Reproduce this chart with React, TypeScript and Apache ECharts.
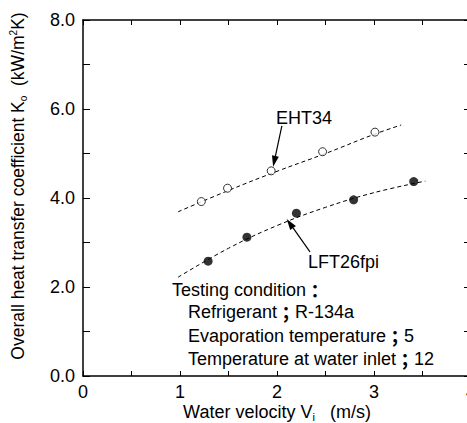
import React, { useEffect, useRef } from 'react';
import * as echarts from 'echarts';

// Measured points (x: water velocity m/s, y: Ko kW/m2K)
const eht34X = [1.22, 1.49, 1.94, 2.47, 3.01];
const eht34Y = [3.92, 4.22, 4.61, 5.04, 5.48];
const lft26X = [1.29, 1.69, 2.2, 2.79, 3.41];
const lft26Y = [2.58, 3.12, 3.66, 3.96, 4.37];

// Dashed fitted curves
const ehtFitX = [0.98, 1.5, 2.0, 2.5, 3.0, 3.28];
const ehtFitY = [3.69, 4.17, 4.6, 5.0, 5.43, 5.64];
const lftFitX = [0.98, 1.5, 2.0, 2.5, 3.0, 3.53];
const lftFitY = [2.22, 2.87, 3.38, 3.79, 4.12, 4.38];

const conditionTitle = 'Testing condition';
const conditionKeys = ['Refrigerant', 'Evaporation temperature', 'Temperature at water inlet'];
const conditionValues = ['R-134a', '5', '12'];

const FONT = '"Liberation Sans", Arial, "Noto Sans CJK JP", sans-serif';
const CJK = '"Noto Sans CJK JP", sans-serif';
const FS = 18;

function zip(xs: number[], ys: number[]) {
  return xs.map((x, i) => [x, ys[i]]);
}

const axisCommon = {
  axisLine: { show: true, onZero: false, lineStyle: { color: '#000', width: 1.5 } },
  splitLine: { show: false },
};

export default function App() {
  const ref = useRef<HTMLDivElement>(null);
  useEffect(() => {
    if (!ref.current) return;
    const chart = echarts.init(ref.current, null, { renderer: 'svg' });
    const xTickCfg = { show: true, inside: true, length: 5, lineStyle: { color: '#000', width: 1 } };
    const yTickCfg = { show: true, inside: true, length: 7, lineStyle: { color: '#000', width: 1 } };
    const option: any = {
      animation: false,
      backgroundColor: '#fff',
      grid: { left: 83, top: 20, width: 388, height: 356, containLabel: false, outerBoundsMode: 'none' },
      xAxis: [
        {
          type: 'value', min: 0, max: 4, interval: 1, position: 'bottom',
          ...axisCommon,
          axisTick: xTickCfg,
          minorTick: { show: true, splitNumber: 2, length: 5, lineStyle: { color: '#000', width: 1 } },
          axisLabel: { color: '#000', fontSize: FS, fontFamily: FONT, margin: 7 },
        },
        {
          type: 'value', min: 0, max: 4, interval: 1, position: 'top',
          ...axisCommon,
          axisTick: xTickCfg,
          minorTick: { show: true, splitNumber: 2, length: 5, lineStyle: { color: '#000', width: 1 } },
          axisLabel: { show: false },
        },
      ],
      yAxis: [
        {
          type: 'value', min: 0, max: 8, interval: 2, position: 'left',
          ...axisCommon,
          axisTick: yTickCfg,
          minorTick: { show: true, splitNumber: 2, length: 7, lineStyle: { color: '#000', width: 1 } },
          axisLabel: {
            color: '#000', fontSize: FS, fontFamily: FONT, margin: 8,
            formatter: (v: number) => v.toFixed(1),
          },
        },
        {
          type: 'value', min: 0, max: 8, interval: 2, position: 'right',
          ...axisCommon,
          axisTick: yTickCfg,
          minorTick: { show: true, splitNumber: 2, length: 7, lineStyle: { color: '#000', width: 1 } },
          axisLabel: { show: false },
        },
      ],
      series: [
        {
          type: 'line', smooth: 0.4, symbol: 'none', data: zip(ehtFitX, ehtFitY),
          lineStyle: { color: '#000', width: 1, type: [4, 3] }, z: 2,
        },
        {
          type: 'line', smooth: 0.4, symbol: 'none', data: zip(lftFitX, lftFitY),
          lineStyle: { color: '#000', width: 1, type: [4, 3] }, z: 2,
        },
        {
          name: 'EHT34', type: 'scatter', symbol: 'circle', symbolSize: 8, data: zip(eht34X, eht34Y),
          itemStyle: { color: '#fff', borderColor: '#000', borderWidth: 1 }, z: 3,
        },
        {
          name: 'LFT26fpi', type: 'scatter', symbol: 'circle', symbolSize: 9, data: zip(lft26X, lft26Y),
          itemStyle: { color: '#000' }, z: 3,
        },
      ],
    };
    chart.setOption(option);

    const px = (p: number[]) => chart.convertToPixel({ gridIndex: 0 }, p) as number[];
    const arrow = (from: number[], to: number[]) => {
      const a = px(from);
      const b = px(to);
      const ang = Math.atan2(b[1] - a[1], b[0] - a[0]);
      const L = 11, W = 3.5;
      const bx = b[0] - L * Math.cos(ang), by = b[1] - L * Math.sin(ang);
      const nx = -Math.sin(ang) * W, ny = Math.cos(ang) * W;
      return [
        { type: 'line', shape: { x1: a[0], y1: a[1], x2: bx, y2: by }, style: { stroke: '#000', lineWidth: 1.2 }, z: 10 },
        {
          type: 'polygon',
          shape: { points: [[b[0], b[1]], [bx + nx, by + ny], [bx - nx, by - ny]] },
          style: { fill: '#000' }, z: 10,
        },
      ];
    };

    const textStyle = { fill: '#000', fontSize: FS, fontFamily: FONT };
    const richBase = {
      a: { fontSize: FS, fontFamily: FONT, fill: '#000', lineHeight: 22 },
      b: { fontSize: FS, fontFamily: CJK, fontWeight: 'bold', fill: '#000', lineHeight: 22 },
    };
    const graphic: any[] = [
      ...arrow([2.05, 5.62], [1.96, 4.7]),
      ...arrow([2.34, 2.79], [2.1, 3.53]),
      { type: 'text', x: 276, y: 118, style: { ...textStyle, text: 'EHT34', verticalAlign: 'middle' }, z: 10 },
      { type: 'text', x: 308, y: 262, style: { ...textStyle, text: 'LFT26fpi', verticalAlign: 'middle' }, z: 10 },
      {
        type: 'text', x: 172, y: 290,
        style: { text: `{a|${conditionTitle}}{b|：}`, verticalAlign: 'middle', rich: richBase }, z: 10,
      },
      ...conditionKeys.map((k, i) => ({
        type: 'text', x: 188, y: 312 + i * 23.5,
        style: { text: `{a|${k}}{b|；}{a|${conditionValues[i]}}`, verticalAlign: 'middle', rich: richBase }, z: 10,
      })),
      {
        type: 'text', x: 277, y: 412,
        style: {
          text: '{a|Water velocity V}{s|i}{a|   (m/s)}',
          align: 'center', verticalAlign: 'middle',
          rich: {
            a: { fontSize: FS, fontFamily: FONT, fill: '#000', lineHeight: 20 },
            s: { fontSize: 11, fontFamily: FONT, fill: '#000', lineHeight: 20, verticalAlign: 'bottom' },
          },
        },
        z: 10,
      },
      {
        type: 'text', x: 18, y: 186, rotation: Math.PI / 2,
        style: {
          text: '{a|Overall heat transfer coefficient K}{s|o}{a|  (kW/m}{p|2}{a|K)}',
          align: 'center', verticalAlign: 'middle',
          rich: {
            a: { fontSize: 17.5, fontFamily: FONT, fill: '#000', lineHeight: 20 },
            s: { fontSize: 10, fontFamily: FONT, fill: '#000', lineHeight: 20, verticalAlign: 'bottom' },
            p: { fontSize: 10, fontFamily: FONT, fill: '#000', lineHeight: 20, verticalAlign: 'top' },
          },
        },
        z: 10,
      },
    ];
    chart.setOption({ graphic });
    return () => chart.dispose();
  }, []);
  return (
    <div
      ref={ref}
      style={{ position: 'fixed', left: 0, top: 0, width: 467, height: 423, background: '#fff' }}
    />
  );
}
